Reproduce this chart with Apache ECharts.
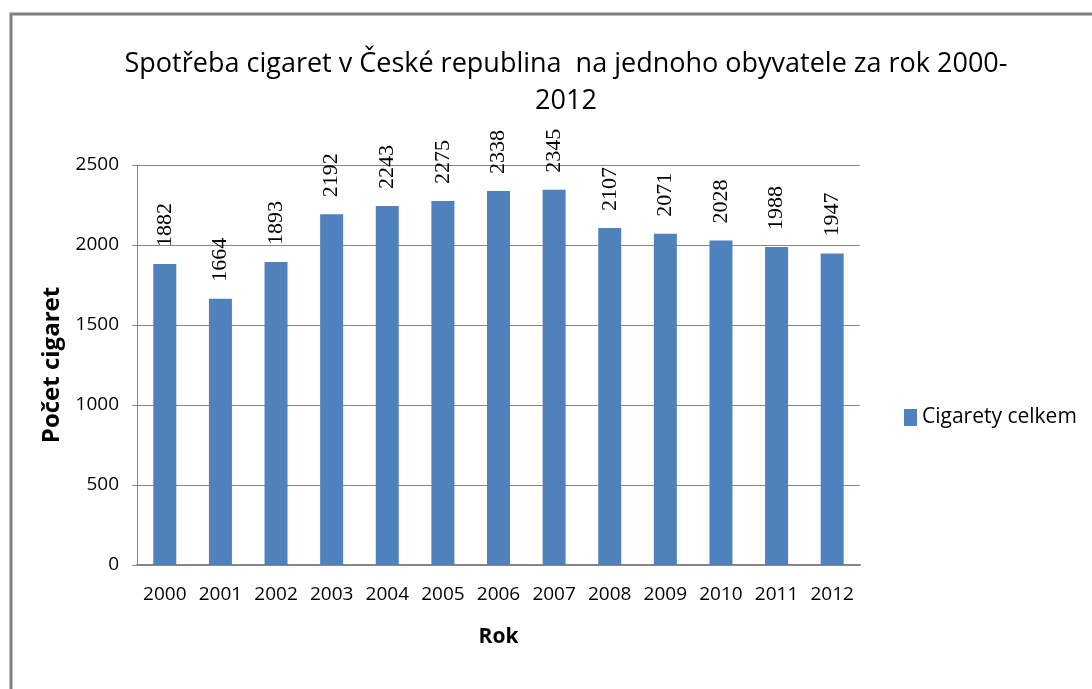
<!DOCTYPE html>
<html>
<head>
<meta charset="utf-8">
<script src="https://cdn.jsdelivr.net/npm/echarts@6/dist/echarts.min.js"></script>
<style>
  html, body { margin: 0; padding: 0; background: #fff; }
  #main { width: 1092px; height: 689px; }
</style>
</head>
<body>
<div id="main"></div>
<script>
let years = ['2000', '2001', '2002', '2003', '2004', '2005', '2006', '2007', '2008', '2009', '2010', '2011', '2012'];
let cigarettes = [1882, 1664, 1893, 2192, 2243, 2275, 2338, 2345, 2107, 2071, 2028, 1988, 1947];
let seriesName = 'Cigarety celkem';
let axisFont = '"Open Sans", sans-serif';

var myChart = echarts.init(document.getElementById('main'));

var option = {
    animation: false,
    backgroundColor: '#fff',
    // grey frame of the chart area (only left and top edges are visible)
    graphic: [{
        type: 'rect',
        shape: { x: 11, y: 14, width: 1300, height: 900 },
        style: { fill: 'none', stroke: '#808080', lineWidth: 3 }
    }],
    title: {
        text: 'Spotřeba cigaret v České republina  na jednoho obyvatele za rok 2000-\n2012',
        left: 561,
        textAlign: 'center',
        top: 41,
        textStyle: {
            fontFamily: '"Open Sans", sans-serif',
            fontSize: 27,
            fontWeight: 'normal',
            color: '#000',
            lineHeight: 37
        }
    },
    legend: {
        orient: 'vertical',
        left: 899,
        top: 402,
        icon: 'rect',
        itemWidth: 13,
        itemHeight: 17,
        itemGap: 6,
        textStyle: {
            fontFamily: '"Open Sans", sans-serif',
            fontSize: 21,
            color: '#000'
        },
        data: [seriesName]
    },
    grid: {
        left: 137,
        right: 232,
        top: 165,
        bottom: 124
    },
    xAxis: {
        type: 'category',
        data: years,
        name: 'Rok',
        nameLocation: 'middle',
        nameGap: 62,
        nameTextStyle: {
            fontFamily: '"Open Sans", sans-serif',
            fontSize: 21,
            fontWeight: 'bold',
            color: '#000'
        },
        axisLine: { lineStyle: { color: '#868686', width: 2 } },
        axisTick: { show: false },
        axisLabel: {
            interval: 0,
            margin: 20,
            fontFamily: axisFont,
            fontSize: 19,
            color: '#000'
        }
    },
    yAxis: {
        type: 'value',
        min: 0,
        max: 2500,
        interval: 500,
        name: 'Počet cigaret',
        nameLocation: 'middle',
        nameGap: 72,
        nameTextStyle: {
            fontFamily: '"Open Sans", sans-serif',
            fontSize: 24,
            fontWeight: 'bold',
            color: '#000'
        },
        axisLine: { show: true, lineStyle: { color: '#868686', width: 1 } },
        axisTick: { show: true, length: 5, lineStyle: { color: '#868686' } },
        axisLabel: {
            margin: 18,
            formatter: (value) => String(value),
            fontFamily: axisFont,
            fontSize: 19,
            color: '#000'
        },
        splitLine: { lineStyle: { color: '#868686', width: 1 } }
    },
    series: [{
        name: seriesName,
        type: 'bar',
        data: cigarettes,
        barWidth: 23,
        itemStyle: { color: '#4F81BD' },
        label: {
            show: true,
            position: 'top',
            rotate: 90,
            align: 'left',
            verticalAlign: 'middle',
            distance: 17,
            fontFamily: '"Liberation Serif", serif',
            fontSize: 22,
            color: '#000'
        }
    }]
};

myChart.setOption(option);
</script>
</body>
</html>
